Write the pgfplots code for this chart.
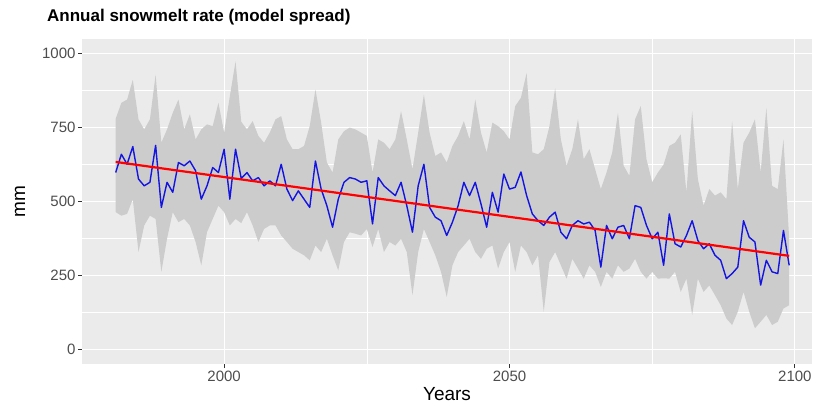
\documentclass[border=0pt]{standalone}
\usepackage{fontspec}
\setmainfont{Liberation Sans}
\usepackage{pgfplots}
\pgfplotsset{compat=1.18}
\usepgfplotslibrary{fillbetween}
\usepackage{pgfplotstable}

\definecolor{panel}{RGB}{235,235,235}
\definecolor{ribbon}{RGB}{204,204,204}
\definecolor{ticktext}{RGB}{77,77,77}
\definecolor{tickcol}{RGB}{51,51,51}
\definecolor{meanblue}{RGB}{20,20,225}

% annual snowmelt: ensemble mean, min and max of the model spread (mm)
\pgfplotstableread{
year mean lo hi
1981 598 464 780
1982 660 452 834
1983 626 458 845
1984 686 508 912
1985 576 329 778
1986 553 419 744
1987 565 452 778
1988 690 441 929
1989 480 262 699
1990 565 374 744
1991 531 464 800
1992 632 430 845
1993 621 441 744
1994 637 419 795
1995 604 363 710
1996 508 284 744
1997 553 396 761
1998 615 441 755
1999 598 486 834
2000 677 464 733
2001 508 419 856
2002 677 441 974
2003 578 427 770
2004 598 464 744
2005 570 419 772
2006 581 363 722
2007 553 407 699
2008 570 419 733
2009 553 419 778
2010 626 385 789
2011 542 363 710
2012 503 340 677
2013 536 329 677
2014 508 318 688
2015 480 301 755
2016 637 351 879
2017 542 329 767
2018 486 374 632
2019 413 318 598
2020 508 267 710
2021 565 363 738
2022 581 396 750
2023 576 391 744
2024 565 385 733
2025 570 407 722
2026 424 346 598
2027 581 407 710
2028 553 329 699
2029 536 363 677
2030 520 351 710
2031 565 374 806
2032 486 329 710
2033 396 183 609
2034 553 329 733
2035 626 407 862
2036 480 363 733
2037 447 318 654
2038 435 262 666
2039 385 177 632
2040 430 284 688
2041 486 329 722
2042 565 351 772
2043 520 374 710
2044 565 329 845
2045 492 306 733
2046 413 340 666
2047 531 351 767
2048 464 273 755
2049 593 329 738
2050 542 363 710
2051 548 262 823
2052 600 351 851
2053 520 329 935
2054 458 284 666
2055 435 318 660
2056 419 127 677
2057 447 295 755
2058 464 329 884
2059 396 284 710
2060 374 239 621
2061 419 306 677
2062 435 273 778
2063 424 239 643
2064 430 284 677
2065 402 262 609
2066 278 211 542
2067 419 262 598
2068 374 239 666
2069 413 284 800
2070 419 262 621
2071 374 273 587
2072 486 306 778
2073 480 262 823
2074 419 239 643
2075 374 262 565
2076 396 239 598
2077 284 240 625
2078 458 239 688
2079 357 262 699
2080 346 194 727
2081 385 239 531
2082 435 116 806
2083 368 239 576
2084 340 194 486
2085 357 216 542
2086 318 183 520
2087 301 149 531
2088 239 104 508
2089 256 82 772
2090 278 127 542
2091 435 194 699
2092 379 127 733
2093 363 71 778
2094 217 93 598
2095 301 116 817
2096 262 82 553
2097 256 93 542
2098 402 138 710
2099 284 149 374
}\snow

% linear trend
\pgfplotstableread{
year fit
1981 634
2099 316
}\trend

\begin{document}
\begin{tikzpicture}
\begin{axis}[
  set layers,
  scale only axis,
  width=730pt, height=325pt,
  xmin=1975.1, xmax=2103.0,
  ymin=-50, ymax=1050,
  axis background/.style={fill=panel},
  axis line style={draw=none},
  xtick={2000,2050,2100}, xticklabels={2000,2050,2100},
  ytick={0,250,500,750,1000}, yticklabels={0,250,500,750,1000},
  minor xtick={2025,2075},
  minor ytick={125,375,625,875},
  grid=both,
  major grid style={white, line width=1.1pt},
  minor grid style={white, line width=0.55pt},
  tick pos=left, tick align=outside,
  major tick length=4pt, minor tick length=0pt,
  tick style={tickcol, line width=0.8pt},
  ticklabel style={font=\fontsize{15}{15}\selectfont, text=ticktext},
  xticklabel style={yshift=1pt},
  yticklabel style={xshift=1pt},
  xlabel={Years}, ylabel={mm},
  xlabel style={at={(axis description cs:0.5,0)}, anchor=base, yshift=-36pt, inner sep=0pt, font=\fontsize{19}{20}\selectfont},
  ylabel style={at={(axis description cs:-0.078,0.5)}, anchor=base, inner sep=0pt, font=\fontsize{19}{20}\selectfont},
  title={Annual snowmelt rate (model spread)},
  title style={at={(axis description cs:0,1)}, anchor=base west, xshift=-35pt, yshift=11pt, inner sep=0pt, font=\fontsize{17}{18}\selectfont\bfseries},
]
\addplot[name path=hi, draw=none, forget plot] table[x=year, y=hi] {\snow};
\addplot[name path=lo, draw=none, forget plot] table[x=year, y=lo] {\snow};
\addplot[fill=ribbon, draw=none] fill between[of=hi and lo];
\addplot[meanblue, line width=1.4pt, line join=round] table[x=year, y=mean] {\snow};
\addplot[red, line width=2.2pt] table[x=year, y=fit] {\trend};
\end{axis}
\pgfresetboundingbox
\path[use as bounding box] (-82pt,-43pt) rectangle (736pt,364pt);
\end{tikzpicture}
\end{document}
